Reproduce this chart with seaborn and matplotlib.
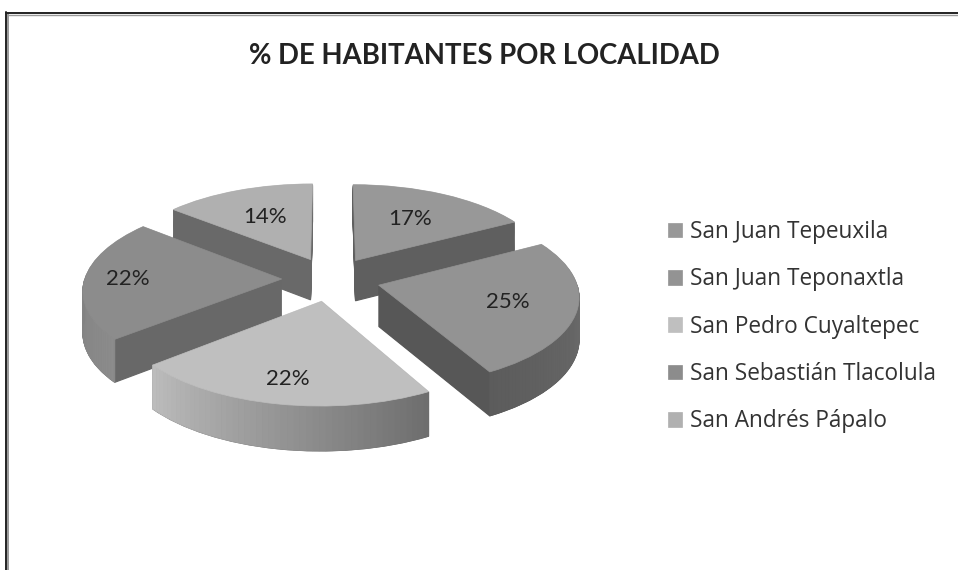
import numpy as np
import matplotlib
matplotlib.use("Agg")
import matplotlib.pyplot as plt
from matplotlib.transforms import Transform
import seaborn as sns

localidades = ["San Juan Tepeuxila", "San Juan Teponaxtla", "San Pedro Cuyaltepec",
               "San Sebastián Tlacolula", "San Andrés Pápalo"]
porcentajes = [17, 25, 22, 22, 14]

caras = ["#989898", "#939393", "#bfbfbf", "#8c8c8c", "#b0b0b0"]
paredes = ["#5f5f5f", "#575757", "#6a6a6a", "#686868", "#696969"]
borde_ini = ["#5f5f5f", "#6c6c6c", "#6e6e6e", "#8c8c8c", "#696969"]
borde_fin = ["#5f5f5f", "#5c5c5c", "#bcbcbc", "#828282", "#696969"]
orden = [1, 3, 4, 2, 0]  # back to front
dist_pct = [0.6, 0.66, 0.78, 0.78, 0.6]

CX, CY, RX, RY, K, DEPTH = 331, 279, 197, 88, 0.11, 41


def proyecta(x, y, z=0.0):
    w = 1 + K * y
    return CX + RX * x / w, CY - RY * y / w + z * (1 - 0.7 * K * y)


class Proyeccion(Transform):
    input_dims = 2
    output_dims = 2
    is_separable = False
    has_inverse = False

    def __init__(self, z=0.0):
        super().__init__()
        self.z = z

    def transform_non_affine(self, values):
        values = np.asarray(values)
        x, y = proyecta(values[:, 0], values[:, 1], self.z)
        return np.column_stack([x, y])


sns.set_theme(style="white")
plt.rcParams["font.family"] = ["Lato", "DejaVu Sans"]

fig = plt.figure(figsize=(9.58, 5.7), dpi=100, facecolor="white")
ax = fig.add_axes([0, 0, 1, 1])
explode = [0.25] * len(porcentajes)

# side walls, one thin pie per layer
for z in range(DEPTH, 0, -1):
    wedges, _ = ax.pie(porcentajes, explode=explode, startangle=90, counterclock=False,
                       normalize=True, colors=paredes, wedgeprops={"linewidth": 0.8})
    for i, w in enumerate(wedges):
        w.set_edgecolor(paredes[i])
        w.set_transform(Proyeccion(z) + ax.transData)
        w.set_zorder(orden[i] * 100 + DEPTH - z)

# top faces and labels
wedges, _, pcts = ax.pie(porcentajes, explode=explode, startangle=90, counterclock=False,
                         normalize=True, colors=sns.color_palette(caras), autopct="%1.0f%%",
                         pctdistance=1.0, wedgeprops={"linewidth": 0.5},
                         textprops={"fontsize": 16, "color": "#222222"})
for i, w in enumerate(wedges):
    w.set_edgecolor(caras[i])
    w.set_transform(Proyeccion() + ax.transData)
    w.set_zorder(orden[i] * 100 + 70)
    cx, cy = w.center
    px, py = pcts[i].get_position()
    pcts[i].set_position((cx + dist_pct[i] * (px - cx), cy + dist_pct[i] * (py - cy)))
    pcts[i].set_transform(Proyeccion() + ax.transData)
    pcts[i].set_zorder(1000)

# outer rim with its gradient, only the part facing the viewer
acum = np.cumsum([0] + porcentajes) / sum(porcentajes) * 2 * np.pi
for i, w in enumerate(wedges):
    ini = max(acum[i], np.pi / 2)
    fin = min(acum[i + 1], 3 * np.pi / 2)
    if fin <= ini:
        continue
    angulos = np.linspace(ini, fin, 50)
    c0 = np.array(matplotlib.colors.to_rgb(borde_ini[i]))
    c1 = np.array(matplotlib.colors.to_rgb(borde_fin[i]))
    cx, cy = w.center
    for j in range(len(angulos) - 1):
        a = angulos[j:j + 2]
        x = cx + np.sin(a)
        y = cy + np.cos(a)
        xs0, ys0 = proyecta(x, y)
        xs1, ys1 = proyecta(x, y, DEPTH)
        t = j / (len(angulos) - 2)
        col = c0 + (c1 - c0) * t
        ax.fill(np.r_[xs0, xs1[::-1]], np.r_[ys0, ys1[::-1]], color=col, lw=0.6,
                zorder=orden[i] * 100 + 60)

ax.set_aspect("auto")
ax.set_xlim(0, 958)
ax.set_ylim(570, 0)
ax.axis("off")

# window frame
ax.plot([6.5, 6.5], [12, 570], color="#222222", lw=1.4, zorder=5)
ax.plot([8.5, 8.5], [14, 570], color="#999999", lw=1.4, zorder=5)
ax.plot([6, 958], [12.7, 12.7], color="#222222", lw=1.4, zorder=5)
ax.plot([8, 958], [14.6, 14.6], color="#999999", lw=1.0, zorder=5)

ax.text(484, 56, "% DE HABITANTES POR LOCALIDAD", ha="center", va="center",
        fontsize=19.8, fontweight="bold", color="#222222")

ax.legend(wedges, localidades, loc="upper left", bbox_to_anchor=(668, 220),
          bbox_transform=ax.transData, frameon=False, borderpad=0,
          borderaxespad=0, handlelength=0.62, handleheight=0.62, handletextpad=0.36,
          labelspacing=1.03, labelcolor="#333333", prop={"family": "Open Sans", "size": 16.3})

fig.savefig("out.png", dpi=100, facecolor="white")
